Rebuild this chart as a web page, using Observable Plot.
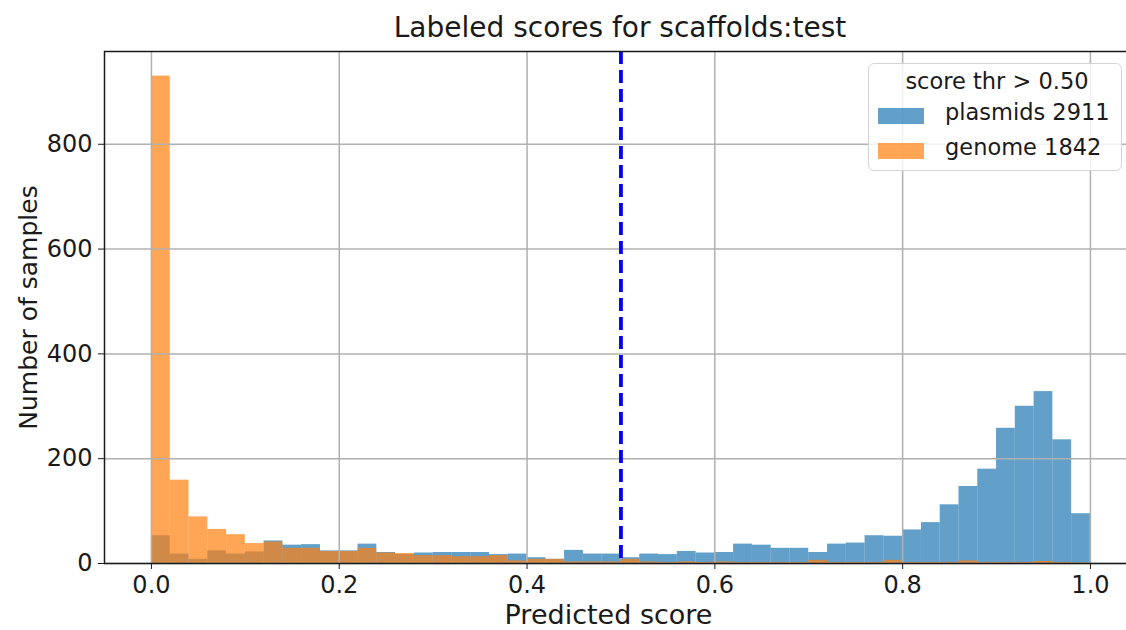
<!DOCTYPE html>
<html>
<head>
<meta charset="utf-8">
<script src="https://cdn.jsdelivr.net/npm/d3@7"></script>
<script src="https://cdn.jsdelivr.net/npm/@observablehq/plot@0.6"></script>
<style>
  html, body { margin: 0; padding: 0; background: #fff; }
  #wrap { position: relative; width: 1126px; height: 630px; font-family: "DejaVu Sans", sans-serif; color: #1a1a1a; overflow: hidden; }
  #title { height: 46px; line-height: 56px; text-align: center; font-size: 28px; padding-left: 114px; box-sizing: border-box; white-space: nowrap; }
  #legend { position: absolute; left: 868px; top: 63px; width: 254px; height: 108px; border: 1.5px solid #d4d4d4; border-radius: 6px; background: rgba(255,255,255,0.82); box-sizing: border-box; font-size: 22.5px; }
  #legend .lt { position: absolute; left: 0; width: 100%; top: 4px; text-align: center; padding-left: 4px; box-sizing: border-box; }
  #legend .sw { position: absolute; left: 9px; width: 46px; height: 16px; }
  #legend .lb { position: absolute; left: 76px; }
</style>
</head>
<body>
<div id="wrap">
  <div id="title">Labeled scores for scaffolds:test</div>
  <div id="chart"></div>
  <div id="legend"></div>
</div>
<script>
// Histogram: 50 bins of width 0.02 over [0, 1]
const binWidth = 0.02;
const plasmids = [
  53, 18, 8, 24, 18, 22, 43, 35, 36, 24,
  24, 37, 21, 17, 20, 21, 21, 21, 17, 18,
  11, 8, 25, 18, 18, 11, 18, 17, 23, 20,
  21, 37, 35, 29, 29, 21, 37, 39, 53, 52,
  64, 78, 112, 147, 180, 258, 300, 328, 236, 95
];
const genome = [
  930, 159, 89, 65, 55, 38, 41, 29, 29, 23,
  23, 29, 20, 19, 15, 15, 13, 13, 15, 5,
  8, 8, 3, 3, 3, 8, 3, 2, 3, 2,
  3, 2, 2, 2, 2, 6, 2, 2, 2, 6,
  2, 2, 2, 5, 2, 2, 2, 4, 2, 1
];
const seriesNames = ["plasmids 2911", "genome 1842"];
const seriesColors = ["#1f77b4", "#ff7f0e"];
const legendTitle = "score thr > 0.50";
const threshold = 0.5;
const xTicks = [0, 0.2, 0.4, 0.6, 0.8, 1.0];
const yTicks = [0, 200, 400, 600, 800];
const xLabel = "Predicted score";
const yLabel = "Number of samples";

const toRows = (vals, name) => vals.map((v, i) => ({x1: i * binWidth, x2: (i + 1) * binWidth, y: v, series: name}));
const plasRows = toRows(plasmids, seriesNames[0]);
const genRows = toRows(genome, seriesNames[1]);

const xDomain = [-0.05, 1.0384];
const yDomain = [0, 977];

const chart = Plot.plot({
  width: 1126,
  height: 584,
  marginTop: 5,
  marginBottom: 67,
  marginLeft: 104,
  marginRight: 0,
  style: {fontFamily: "DejaVu Sans, sans-serif", fontSize: "24px", color: "#1a1a1a", background: "transparent"},
  x: {domain: xDomain},
  y: {domain: yDomain},
  marks: [
    Plot.rectY(plasRows, {x1: "x1", x2: "x2", y: "y", fill: seriesColors[0], fillOpacity: 0.7}),
    Plot.rectY(genRows, {x1: "x1", x2: "x2", y: "y", fill: seriesColors[1], fillOpacity: 0.7}),
    Plot.ruleX(xTicks, {stroke: "#b0b0b0", strokeWidth: 1.5}),
    Plot.ruleY(yTicks, {stroke: "#b0b0b0", strokeWidth: 1.5}),
    Plot.ruleX([threshold], {stroke: "blue", strokeWidth: 3.8, strokeDasharray: "13,6"}),
    Plot.ruleY([yDomain[0]], {stroke: "#1a1a1a", strokeWidth: 1.5}),
    Plot.ruleY([yDomain[1]], {stroke: "#1a1a1a", strokeWidth: 1.5}),
    Plot.ruleX([xDomain[0]], {stroke: "#1a1a1a", strokeWidth: 1.5}),
    Plot.axisX({ticks: xTicks, tickFormat: d => d.toFixed(1), tickSize: 6, tickPadding: 6, fontSize: 24, label: null}),
    Plot.axisY({ticks: yTicks, tickSize: 6, tickPadding: 6, fontSize: 24, label: null}),
    Plot.text([xLabel], {frameAnchor: "bottom", dx: -7, dy: 52, fontSize: 27, lineAnchor: "middle", textAnchor: "middle"}),
    Plot.text([yLabel], {frameAnchor: "left", dx: -76, rotate: -90, fontSize: 25, lineAnchor: "middle", textAnchor: "middle"})
  ]
});
document.getElementById("chart").appendChild(chart);

const lg = document.getElementById("legend");
const t = document.createElement("div");
t.className = "lt"; t.textContent = legendTitle; lg.appendChild(t);
const rowsY = [44, 79];
seriesNames.forEach((n, i) => {
  const sw = document.createElement("div");
  sw.className = "sw"; sw.style.top = rowsY[i] + "px";
  sw.style.background = seriesColors[i]; sw.style.opacity = 0.7;
  lg.appendChild(sw);
  const lb = document.createElement("div");
  lb.className = "lb"; lb.style.top = (rowsY[i] - 9) + "px"; lb.textContent = n;
  lg.appendChild(lb);
});
</script>
</body>
</html>
